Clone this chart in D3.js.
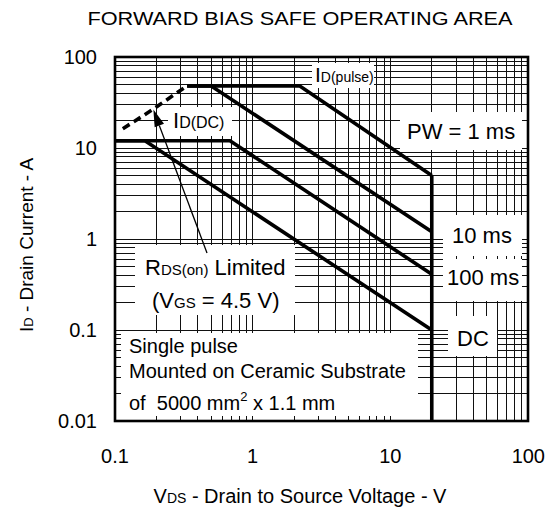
<!DOCTYPE html>
<html>
<head>
<meta charset="utf-8">
<script src="https://cdn.jsdelivr.net/npm/d3@7/dist/d3.min.js"></script>
<style>
  html, body { margin: 0; padding: 0; background: #fff; }
  svg { display: block; }
  text { font-family: "Liberation Sans", Arial, Helvetica, sans-serif; fill: #000; }
</style>
</head>
<body>
<svg id="chart" width="548" height="512"></svg>
<script>
// ---- data ----
const xTicks = [0.1, 1, 10, 100];
const xTickLabels = ["0.1", "1", "10", "100"];
const yTicks = [0.01, 0.1, 1, 10, 100];
const yTickLabels = ["0.01", "0.1", "1", "10", "100"];

const pw1ms   = [[0.334, 48], [2.2, 48], [20, 5]];
const pw10ms  = [[0.334, 48], [0.5, 48], [20, 1.2]];
const pw100ms = [[0.1, 12], [0.684, 12], [20, 0.41]];
const dcLine  = [[0.1, 12], [0.165, 12], [20, 0.1]];
const vdssLimit = [[20, 5], [20, 0.01]];
const rdsLimit = [[0.114, 16.3], [0.186, 26.2], [0.287, 41.2], [0.334, 48]];
const arrowTarget = [0.19, 26.5];

// ---- layout ----
const W = 548, H = 512;
const m = { left: 115, right: 20, top: 57, bottom: 91 };
const svg = d3.select("#chart");

const x = d3.scaleLog().domain([0.1, 100]).range([m.left, W - m.right]);
const y = d3.scaleLog().domain([0.01, 100]).range([H - m.bottom, m.top]);

// grid values (1..9 per decade)
function gridVals(lo, hi) {
  const out = [];
  for (let e = Math.log10(lo); e < Math.log10(hi); e++) {
    for (let k = 1; k <= 9; k++) out.push(k * Math.pow(10, e));
  }
  out.push(hi);
  return out;
}
const xg = gridVals(0.1, 100), yg = gridVals(0.01, 100);

const grid = svg.append("g").attr("stroke", "#111").attr("stroke-width", 1).attr("shape-rendering", "crispEdges");
grid.selectAll("line.v").data(xg).join("line")
  .attr("x1", d => x(d)).attr("x2", d => x(d))
  .attr("y1", y(0.01)).attr("y2", y(100));
grid.selectAll("line.h").data(yg).join("line")
  .attr("y1", d => y(d)).attr("y2", d => y(d))
  .attr("x1", x(0.1)).attr("x2", x(100));

// white annotation boxes
const boxes = [
  [312, 63, 62, 25],    // ID(pulse)
  [168, 107, 64, 29],   // ID(DC)
  [400, 112, 122, 38],  // PW = 1 ms
  [443, 215, 79, 41],   // 10 ms
  [443, 259, 79, 42],   // 100 ms
  [448, 316, 49, 40],   // DC
  [135, 245, 160, 70],  // RDS(on)
  [121, 333, 297, 83]   // Single pulse
];
svg.append("g").selectAll("rect").data(boxes).join("rect")
  .attr("x", d => d[0]).attr("y", d => d[1]).attr("width", d => d[2]).attr("height", d => d[3])
  .attr("fill", "#fff");

// curves
const line = d3.line().x(d => x(d[0])).y(d => y(d[1]));
const curves = svg.append("g").attr("fill", "none").attr("stroke", "#000")
  .attr("stroke-width", 3.6).attr("stroke-linejoin", "miter");
[pw1ms, pw10ms, pw100ms, dcLine, vdssLimit].forEach(c => curves.append("path").attr("d", line(c)));
curves.append("path").attr("d", line(rdsLimit)).attr("stroke-dasharray", "8,5");

// arrow
const tail = [207, 253];
const tip = [x(arrowTarget[0]), y(arrowTarget[1])];
const ang = Math.atan2(tip[1] - tail[1], tip[0] - tail[0]);
const aL = 17, aW = 5;
const base = [tip[0] - aL * Math.cos(ang), tip[1] - aL * Math.sin(ang)];
svg.append("line").attr("x1", tail[0]).attr("y1", tail[1]).attr("x2", base[0]).attr("y2", base[1])
  .attr("stroke", "#000").attr("stroke-width", 1.3);
svg.append("path").attr("fill", "#000").attr("d",
  `M${tip[0]},${tip[1]} L${base[0] - aW * Math.sin(ang)},${base[1] + aW * Math.cos(ang)} L${base[0] + aW * Math.sin(ang)},${base[1] - aW * Math.cos(ang)} Z`);

// frame
svg.append("rect").attr("x", x(0.1)).attr("y", y(100))
  .attr("width", x(100) - x(0.1)).attr("height", y(0.01) - y(100))
  .attr("fill", "none").attr("stroke", "#000").attr("stroke-width", 2.6);

// tick labels
svg.append("g").selectAll("text").data(xTicks).join("text")
  .attr("x", (d, i) => i === xTicks.length - 1 ? 545 : x(d))
  .attr("y", 463)
  .attr("text-anchor", (d, i) => i === xTicks.length - 1 ? "end" : "middle")
  .attr("font-size", 20)
  .text((d, i) => xTickLabels[i]);
svg.append("g").selectAll("text").data(yTicks).join("text")
  .attr("x", 97).attr("y", d => y(d)).attr("dy", "0.36em")
  .attr("text-anchor", "end").attr("font-size", 20)
  .text((d, i) => yTickLabels[i]);

// title
svg.append("text").attr("x", 300).attr("y", 25).attr("text-anchor", "middle")
  .attr("font-size", 18).attr("textLength", 425).attr("lengthAdjust", "spacingAndGlyphs")
  .text("FORWARD BIAS SAFE OPERATING AREA");

// helper for text with small-size parts on same baseline
function rich(px, py, parts, anchor) {
  const t = svg.append("text").attr("x", px).attr("y", py).style("white-space", "pre");
  if (anchor) t.attr("text-anchor", anchor);
  parts.forEach(p => {
    const s = t.append("tspan").attr("font-size", p[1]).text(p[0]);
    if (p[2]) s.attr("dy", p[2]);
  });
  return t;
}

// axis titles
rich(300, 503, [["V", 20], ["DS", 14], [" - Drain to Source Voltage - V", 20]], "middle");
rich(0, 0, [["I", 19], ["D", 13], [" - Drain Current - A", 19]], "middle")
  .attr("transform", "translate(33,245) rotate(-90)");

// annotations
rich(315, 82, [["I", 21], ["D(pulse)", 14]]);
rich(173, 128, [["I", 22], ["D(DC)", 16]]);
rich(407, 139, [["PW = 1 ms", 22]]);
rich(452, 243, [["10 ms", 22]]);
rich(447, 285, [["100 ms", 22]]);
rich(457, 346, [["DC", 22]]);
rich(145, 275, [["R", 22], ["DS(on)", 15], [" Limited", 22]]);
rich(152, 308, [["(V", 22], ["GS", 15], [" = 4.5 V)", 22]]);
rich(129, 353, [["Single pulse", 20]]);
rich(129, 378, [["Mounted on Ceramic Substrate", 20]]);
rich(129, 410, [["of  5000 mm", 20], ["2", 13, -9], [" x 1.1 mm", 20, 9]]);
</script>
</body>
</html>
